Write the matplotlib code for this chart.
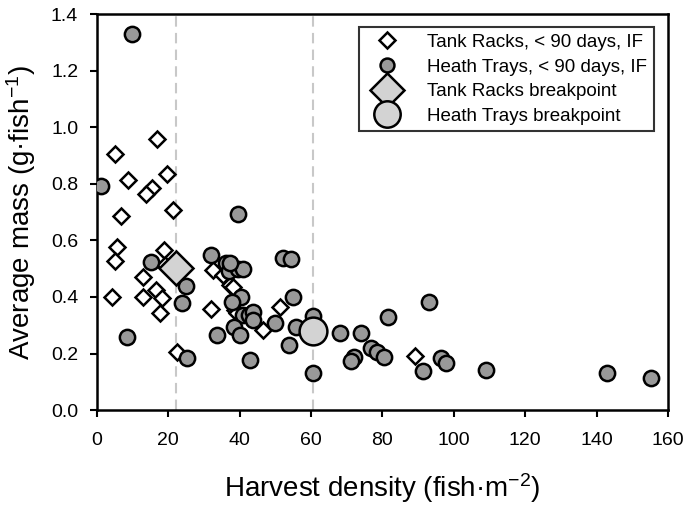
import matplotlib
matplotlib.use("Agg")
import matplotlib.pyplot as plt
from matplotlib.lines import Line2D

plt.rcParams['font.family'] = ['Liberation Sans', 'DejaVu Sans']
plt.rcParams['mathtext.default'] = 'regular'

# Tank Racks, < 90 days, IF (open diamonds)
tank_x = [16.7, 5.0, 8.8, 19.5, 15.3, 13.7, 21.2, 6.6, 5.5, 5.1, 18.8, 19.1,
          13.0, 16.4, 18.3, 4.2, 13.0, 17.7, 31.9, 32.6, 22.5, 35.4, 37.3,
          38.2, 38.7, 39.1, 46.6, 51.3, 89.1]
tank_y = [0.958, 0.905, 0.815, 0.834, 0.784, 0.764, 0.707, 0.686, 0.577, 0.528,
          0.566, 0.513, 0.471, 0.426, 0.398, 0.400, 0.400, 0.342, 0.359, 0.497,
          0.206, 0.477, 0.442, 0.436, 0.353, 0.342, 0.283, 0.365, 0.191]

# Heath Trays, < 90 days, IF (grey circles)
heath_x = [9.7, 1.0, 15.0, 24.9, 23.7, 8.5, 25.3, 33.7, 31.9, 39.4, 36.1, 37.1,
           39.6, 41.0, 40.3, 37.7, 41.0, 42.7, 38.4, 40.1, 42.9, 52.2, 54.5,
           37.3, 43.8, 43.8, 49.9, 54.8, 53.9, 55.9, 60.6, 60.6, 68.1, 73.9,
           72.0, 71.1, 76.7, 78.4, 81.6, 93.1, 80.4, 91.3, 96.4, 97.8, 109.0,
           143.0, 155.2]
heath_y = [1.329, 0.792, 0.524, 0.438, 0.377, 0.260, 0.185, 0.264, 0.550, 0.695,
           0.520, 0.490, 0.500, 0.500, 0.400, 0.383, 0.336, 0.336, 0.294, 0.265,
           0.177, 0.536, 0.533, 0.519, 0.347, 0.318, 0.309, 0.400, 0.230, 0.292,
           0.332, 0.132, 0.273, 0.273, 0.188, 0.174, 0.221, 0.206, 0.328, 0.381,
           0.186, 0.139, 0.183, 0.165, 0.141, 0.130, 0.112]

# Breakpoints
tank_bp = (22.1, 0.503)
heath_bp = (60.6, 0.280)

x_ticks = [0, 20, 40, 60, 80, 100, 120, 140, 160]
y_ticks = [0.0, 0.2, 0.4, 0.6, 0.8, 1.0, 1.2, 1.4]

fig = plt.figure(figsize=(6.85, 5.05), dpi=100)
ax = fig.add_axes([0.1416, 0.188, 0.8334, 0.784])

for bx in (tank_bp[0], heath_bp[0]):
    ax.axvline(bx, color='#c8c8c8', linestyle=(0, (5, 3)), linewidth=1.5, zorder=1)

ax.plot(tank_x, tank_y, linestyle='none', marker='D', markersize=8.5,
        markerfacecolor='white', markeredgecolor='black', markeredgewidth=1.8, zorder=3)
ax.plot(heath_x, heath_y, linestyle='none', marker='o', markersize=11,
        markerfacecolor='#999999', markeredgecolor='black', markeredgewidth=1.8, zorder=4)
ax.plot([tank_bp[0]], [tank_bp[1]], linestyle='none', marker='D', markersize=17,
        markerfacecolor='#d3d3d3', markeredgecolor='black', markeredgewidth=1.8, zorder=5)
ax.plot([heath_bp[0]], [heath_bp[1]], linestyle='none', marker='o', markersize=20,
        markerfacecolor='#d3d3d3', markeredgecolor='black', markeredgewidth=1.8, zorder=5)

ax.set_xlim(0, 160)
ax.set_ylim(0, 1.4)
ax.set_xticks(x_ticks)
ax.set_yticks(y_ticks)
ax.set_xticklabels([str(t) for t in x_ticks])
ax.set_yticklabels([f"{t:.1f}" for t in y_ticks])
ax.tick_params(axis='both', direction='out', length=5, width=1.5, labelsize=14,
               top=False, right=False, colors='black')
ax.tick_params(axis='x', pad=11)
ax.tick_params(axis='y', pad=8.5)
for s in ax.spines.values():
    s.set_linewidth(1.8)

ax.set_xlabel('Harvest density (fish·m$^{-2}$)', fontsize=20, labelpad=16)
ax.set_ylabel('Average mass (g·fish$^{-1}$)', fontsize=20, labelpad=9)

handles = [
    Line2D([], [], linestyle='none', marker='D', markersize=8, markerfacecolor='white',
           markeredgecolor='black', markeredgewidth=1.8),
    Line2D([], [], linestyle='none', marker='o', markersize=10, markerfacecolor='#999999',
           markeredgecolor='black', markeredgewidth=1.8),
    Line2D([], [], linestyle='none', marker='D', markersize=17, markerfacecolor='#d3d3d3',
           markeredgecolor='black', markeredgewidth=1.8),
    Line2D([], [], linestyle='none', marker='o', markersize=19, markerfacecolor='#d3d3d3',
           markeredgecolor='black', markeredgewidth=1.8),
]
labels = ['Tank Racks, < 90 days, IF', 'Heath Trays, < 90 days, IF',
          'Tank Racks breakpoint', 'Heath Trays breakpoint']
leg = ax.legend(handles, labels, loc='upper right', bbox_to_anchor=(0.9755, 0.967),
                borderaxespad=0, fontsize=13.5, frameon=True, fancybox=False,
                edgecolor='black', borderpad=0.35, labelspacing=0.4,
                handletextpad=1.0, handlelength=2.3)
leg.get_frame().set_linewidth(1.5)

fig.savefig('out.png', dpi=100)
